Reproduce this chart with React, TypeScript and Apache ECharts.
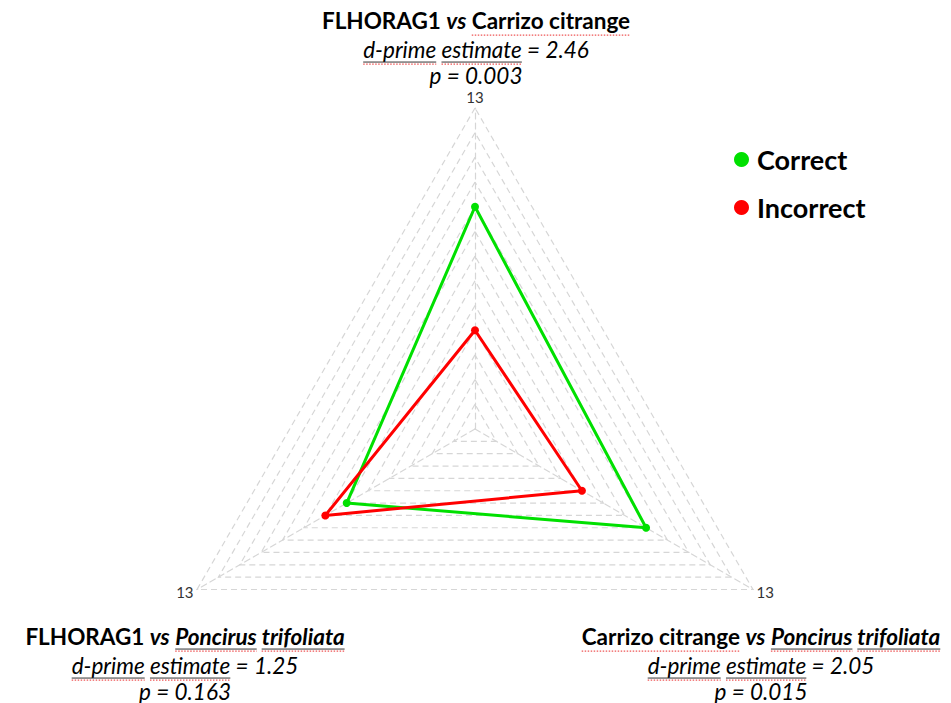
import React, { useEffect, useRef } from "react";
import * as echarts from "echarts";

// ---- data ----
const indicatorNames = [
  "FLHORAG1 vs Carrizo citrange",
  "FLHORAG1 vs Poncirus trifoliata",
  "Carrizo citrange vs Poncirus trifoliata",
];
const axisMax = 13;
const seriesNames = ["Correct", "Incorrect"];
const correctValues = [9, 6, 8];
const incorrectValues = [4, 7, 5];
const dPrimeEstimates = ["2.46", "1.25", "2.05"];
const pValues = ["0.003", "0.163", "0.015"];

const FONT = "Lato";

type Seg = { t: string; b?: boolean; i?: boolean; ul?: boolean; sq?: boolean };

function measure(ctx: CanvasRenderingContext2D, s: Seg, size: number) {
  ctx.font = `${s.i ? "italic " : ""}${s.b ? "bold " : ""}${size}px ${FONT}`;
  return ctx.measureText(s.t).width;
}

function buildLine(
  ctx: CanvasRenderingContext2D,
  segs: Seg[],
  cx: number,
  cy: number,
  size: number
): any[] {
  const widths = segs.map((s) => measure(ctx, s, size));
  const total = widths.reduce((a, b) => a + b, 0);
  let x = cx - total / 2;
  const els: any[] = [];
  segs.forEach((s, k) => {
    const w = widths[k];
    els.push({
      type: "text",
      x,
      y: cy,
      silent: true,
      style: {
        text: s.t,
        fontFamily: FONT,
        fontSize: size,
        fontWeight: s.b ? "bold" : "normal",
        fontStyle: s.i ? "italic" : "normal",
        fill: "#000",
        textAlign: "left",
        align: "left",
        textVerticalAlign: "middle",
        verticalAlign: "middle",
      },
    });
    if (s.ul) {
      els.push({
        type: "line",
        silent: true,
        shape: { x1: x, y1: cy + size * 0.58, x2: x + w, y2: cy + size * 0.58 },
        style: { stroke: "#333", lineWidth: 1 },
      });
    }
    if (s.sq) {
      els.push({
        type: "line",
        silent: true,
        shape: { x1: x, y1: cy + size * 0.58 + 2, x2: x + w, y2: cy + size * 0.58 + 2 },
        style: { stroke: "#ee5555", lineWidth: 1.2, lineDash: [1.5, 1.5] },
      });
    }
    x += w;
  });
  return els;
}

function titleSegs(name: string): Seg[] {
  const [a, b] = name.split(" vs ");
  const segs: Seg[] = [];
  const part = (txt: string) => {
    if (txt === "Poncirus trifoliata") {
      segs.push({ t: "Poncirus", b: true, i: true, ul: true, sq: true });
      segs.push({ t: " ", b: true, i: true });
      segs.push({ t: "trifoliata", b: true, i: true, ul: true, sq: true });
    } else if (txt === "Carrizo citrange") {
      segs.push({ t: txt, b: true, sq: true });
    } else {
      segs.push({ t: txt, b: true });
    }
  };
  part(a);
  segs.push({ t: " ", b: true });
  segs.push({ t: "vs", b: true, i: true });
  segs.push({ t: " ", b: true });
  part(b);
  return segs;
}

export default function App() {
  const ref = useRef<HTMLDivElement>(null);
  useEffect(() => {
    if (!ref.current) return;
    const chart = echarts.init(ref.current, undefined, { renderer: "svg" });
    const canvas = document.createElement("canvas");
    const ctx = canvas.getContext("2d") as CanvasRenderingContext2D;

    const blocks = [
      { cx: 476, y0: 20 },
      { cx: 185, y0: 636 },
      { cx: 761, y0: 636 },
    ];
    const graphics: any[] = [];
    blocks.forEach((bl, k) => {
      const size = 22.5;
      graphics.push(...buildLine(ctx, titleSegs(indicatorNames[k]), bl.cx, bl.y0, size));
      graphics.push(
        ...buildLine(
          ctx,
          [
            { t: "d-prime", i: true, ul: true, sq: true },
            { t: " ", i: true },
            { t: "estimate", i: true, ul: true, sq: true },
            { t: " = " + dPrimeEstimates[k], i: true },
          ],
          bl.cx,
          bl.y0 + 29,
          size
        )
      );
      graphics.push(
        ...buildLine(ctx, [{ t: "p = " + pValues[k], i: true }], bl.cx, bl.y0 + 55, size)
      );
    });

    const gridStyle = { color: "#d6d6d6", type: [6, 4] as any, width: 1.2 };

    chart.setOption({
      animation: false,
      backgroundColor: "#fff",
      color: ["#00e000", "#ff0000"],
      legend: {
        orient: "vertical",
        left: 729,
        top: 141,
        icon: "circle",
        itemWidth: 15,
        itemHeight: 15,
        itemGap: 21,
        data: seriesNames,
        textStyle: {
          fontFamily: FONT,
          fontWeight: "bold",
          fontSize: 27,
          color: "#000",
          padding: [0, 0, 0, 3],
        },
      },
      radar: {
        center: [475, 429],
        radius: 321,
        startAngle: 90,
        shape: "polygon",
        splitNumber: axisMax,
        indicator: indicatorNames.map((n) => ({ name: n, min: 0, max: axisMax })),
        axisName: {
          formatter: (_v: string, ind: any) => String(ind.max),
          color: "#333",
          fontFamily: FONT,
          fontSize: 15,
        },
        nameGap: 4,
        splitLine: { lineStyle: gridStyle },
        splitArea: { show: false },
        axisLine: { lineStyle: gridStyle },
        axisTick: { show: false },
        axisLabel: { show: false },
      },
      series: [
        {
          type: "radar",
          symbol: "circle",
          symbolSize: 8,
          data: [
            { name: seriesNames[0], value: correctValues, lineStyle: { width: 3 } },
            { name: seriesNames[1], value: incorrectValues, lineStyle: { width: 3 } },
          ],
        },
      ],
      graphic: graphics,
    });
    return () => chart.dispose();
  }, []);
  return (
    <div
      ref={ref}
      style={{ position: "fixed", left: 0, top: 0, width: 951, height: 703, background: "#fff" }}
    />
  );
}
